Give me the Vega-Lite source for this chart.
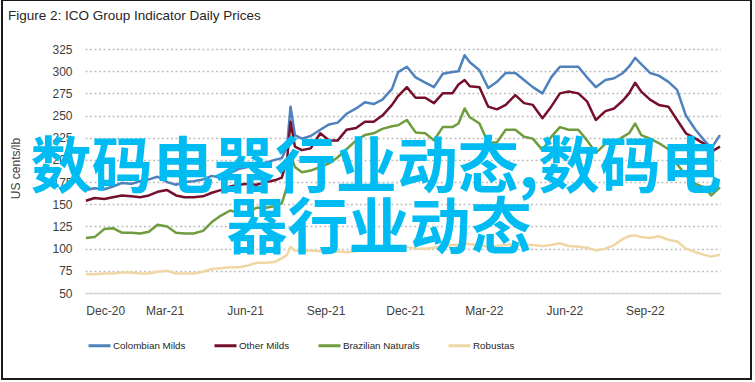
{
"$schema": "https://vega.github.io/schema/vega-lite/v6.json",
"width": 749, "height": 379,
"autosize": {"type": "none"},
"padding": {"left": 2, "top": 0, "right": 4, "bottom": 3},
"background": "white",
"config": {"font": "Liberation Sans", "view": {"stroke": "#1a1a1a", "strokeWidth": 2}, "axis": {"labelOverlap": false}, "axisY": {"labelOverlap": false}},
"title": {"text": "Figure 2: ICO Group Indicator Daily Prices", "anchor": "start", "frame": "group", "offset": -22, "dx": 6, "font": "Liberation Sans", "fontSize": 13.5, "fontWeight": "normal", "color": "#262626"},
"layer": [
{
"data": {"values": [
{"d":"2020-12-01","s":"Colombian Milds","v":166},{"d":"2020-12-11","s":"Colombian Milds","v":168},{"d":"2020-12-22","s":"Colombian Milds","v":167},{"d":"2021-01-01","s":"Colombian Milds","v":170},{"d":"2021-01-11","s":"Colombian Milds","v":174},{"d":"2021-01-22","s":"Colombian Milds","v":173},{"d":"2021-02-01","s":"Colombian Milds","v":176},{"d":"2021-02-11","s":"Colombian Milds","v":178},{"d":"2021-02-21","s":"Colombian Milds","v":181},{"d":"2021-03-04","s":"Colombian Milds","v":175},{"d":"2021-03-14","s":"Colombian Milds","v":172},{"d":"2021-03-24","s":"Colombian Milds","v":175},{"d":"2021-04-03","s":"Colombian Milds","v":176},{"d":"2021-04-14","s":"Colombian Milds","v":178},{"d":"2021-04-24","s":"Colombian Milds","v":182},{"d":"2021-05-04","s":"Colombian Milds","v":180},{"d":"2021-05-15","s":"Colombian Milds","v":185},{"d":"2021-05-25","s":"Colombian Milds","v":190},{"d":"2021-06-04","s":"Colombian Milds","v":192},{"d":"2021-06-14","s":"Colombian Milds","v":194},{"d":"2021-06-25","s":"Colombian Milds","v":197},{"d":"2021-07-05","s":"Colombian Milds","v":200},{"d":"2021-07-13","s":"Colombian Milds","v":202},{"d":"2021-07-19","s":"Colombian Milds","v":215},{"d":"2021-07-23","s":"Colombian Milds","v":260},{"d":"2021-07-28","s":"Colombian Milds","v":228},{"d":"2021-08-05","s":"Colombian Milds","v":224},{"d":"2021-08-15","s":"Colombian Milds","v":227},{"d":"2021-08-26","s":"Colombian Milds","v":234},{"d":"2021-09-05","s":"Colombian Milds","v":240},{"d":"2021-09-15","s":"Colombian Milds","v":242},{"d":"2021-09-25","s":"Colombian Milds","v":252},{"d":"2021-10-06","s":"Colombian Milds","v":258},{"d":"2021-10-16","s":"Colombian Milds","v":265},{"d":"2021-10-26","s":"Colombian Milds","v":263},{"d":"2021-11-05","s":"Colombian Milds","v":268},{"d":"2021-11-16","s":"Colombian Milds","v":280},{"d":"2021-11-23","s":"Colombian Milds","v":299},{"d":"2021-12-03","s":"Colombian Milds","v":305},{"d":"2021-12-13","s":"Colombian Milds","v":293},{"d":"2021-12-24","s":"Colombian Milds","v":287},{"d":"2022-01-03","s":"Colombian Milds","v":282},{"d":"2022-01-13","s":"Colombian Milds","v":297},{"d":"2022-01-24","s":"Colombian Milds","v":299},{"d":"2022-01-31","s":"Colombian Milds","v":300},{"d":"2022-02-07","s":"Colombian Milds","v":318},{"d":"2022-02-13","s":"Colombian Milds","v":310},{"d":"2022-02-24","s":"Colombian Milds","v":301},{"d":"2022-03-06","s":"Colombian Milds","v":281},{"d":"2022-03-16","s":"Colombian Milds","v":288},{"d":"2022-03-26","s":"Colombian Milds","v":298},{"d":"2022-04-06","s":"Colombian Milds","v":298},{"d":"2022-04-16","s":"Colombian Milds","v":290},{"d":"2022-04-26","s":"Colombian Milds","v":282},{"d":"2022-05-07","s":"Colombian Milds","v":275},{"d":"2022-05-17","s":"Colombian Milds","v":293},{"d":"2022-05-27","s":"Colombian Milds","v":305},{"d":"2022-06-06","s":"Colombian Milds","v":305},{"d":"2022-06-17","s":"Colombian Milds","v":305},{"d":"2022-06-27","s":"Colombian Milds","v":293},{"d":"2022-07-07","s":"Colombian Milds","v":282},{"d":"2022-07-18","s":"Colombian Milds","v":290},{"d":"2022-07-28","s":"Colombian Milds","v":292},{"d":"2022-08-07","s":"Colombian Milds","v":298},{"d":"2022-08-14","s":"Colombian Milds","v":305},{"d":"2022-08-21","s":"Colombian Milds","v":315},{"d":"2022-08-28","s":"Colombian Milds","v":308},{"d":"2022-09-07","s":"Colombian Milds","v":298},{"d":"2022-09-17","s":"Colombian Milds","v":295},{"d":"2022-09-28","s":"Colombian Milds","v":288},{"d":"2022-10-08","s":"Colombian Milds","v":279},{"d":"2022-10-18","s":"Colombian Milds","v":250},{"d":"2022-10-29","s":"Colombian Milds","v":234},{"d":"2022-11-08","s":"Colombian Milds","v":222},{"d":"2022-11-16","s":"Colombian Milds","v":213},{"d":"2022-11-26","s":"Colombian Milds","v":228},
{"d":"2020-12-01","s":"Other Milds","v":154},{"d":"2020-12-11","s":"Other Milds","v":157},{"d":"2020-12-22","s":"Other Milds","v":156},{"d":"2021-01-01","s":"Other Milds","v":158},{"d":"2021-01-11","s":"Other Milds","v":160},{"d":"2021-01-22","s":"Other Milds","v":159},{"d":"2021-02-01","s":"Other Milds","v":158},{"d":"2021-02-11","s":"Other Milds","v":160},{"d":"2021-02-21","s":"Other Milds","v":164},{"d":"2021-03-04","s":"Other Milds","v":166},{"d":"2021-03-14","s":"Other Milds","v":160},{"d":"2021-03-24","s":"Other Milds","v":158},{"d":"2021-04-03","s":"Other Milds","v":158},{"d":"2021-04-14","s":"Other Milds","v":159},{"d":"2021-04-24","s":"Other Milds","v":163},{"d":"2021-05-04","s":"Other Milds","v":166},{"d":"2021-05-15","s":"Other Milds","v":170},{"d":"2021-05-25","s":"Other Milds","v":172},{"d":"2021-06-04","s":"Other Milds","v":173},{"d":"2021-06-14","s":"Other Milds","v":172},{"d":"2021-06-25","s":"Other Milds","v":175},{"d":"2021-07-05","s":"Other Milds","v":177},{"d":"2021-07-13","s":"Other Milds","v":180},{"d":"2021-07-19","s":"Other Milds","v":200},{"d":"2021-07-23","s":"Other Milds","v":243},{"d":"2021-07-28","s":"Other Milds","v":215},{"d":"2021-08-05","s":"Other Milds","v":211},{"d":"2021-08-15","s":"Other Milds","v":213},{"d":"2021-08-26","s":"Other Milds","v":230},{"d":"2021-09-05","s":"Other Milds","v":222},{"d":"2021-09-15","s":"Other Milds","v":222},{"d":"2021-09-25","s":"Other Milds","v":234},{"d":"2021-10-06","s":"Other Milds","v":236},{"d":"2021-10-16","s":"Other Milds","v":243},{"d":"2021-10-26","s":"Other Milds","v":243},{"d":"2021-11-05","s":"Other Milds","v":250},{"d":"2021-11-16","s":"Other Milds","v":262},{"d":"2021-11-23","s":"Other Milds","v":272},{"d":"2021-12-03","s":"Other Milds","v":282},{"d":"2021-12-13","s":"Other Milds","v":270},{"d":"2021-12-24","s":"Other Milds","v":270},{"d":"2022-01-03","s":"Other Milds","v":264},{"d":"2022-01-13","s":"Other Milds","v":275},{"d":"2022-01-24","s":"Other Milds","v":275},{"d":"2022-01-31","s":"Other Milds","v":285},{"d":"2022-02-07","s":"Other Milds","v":290},{"d":"2022-02-13","s":"Other Milds","v":283},{"d":"2022-02-24","s":"Other Milds","v":282},{"d":"2022-03-06","s":"Other Milds","v":260},{"d":"2022-03-16","s":"Other Milds","v":257},{"d":"2022-03-26","s":"Other Milds","v":262},{"d":"2022-04-06","s":"Other Milds","v":273},{"d":"2022-04-16","s":"Other Milds","v":264},{"d":"2022-04-26","s":"Other Milds","v":262},{"d":"2022-05-07","s":"Other Milds","v":247},{"d":"2022-05-17","s":"Other Milds","v":260},{"d":"2022-05-27","s":"Other Milds","v":275},{"d":"2022-06-06","s":"Other Milds","v":277},{"d":"2022-06-17","s":"Other Milds","v":275},{"d":"2022-06-27","s":"Other Milds","v":266},{"d":"2022-07-07","s":"Other Milds","v":245},{"d":"2022-07-18","s":"Other Milds","v":255},{"d":"2022-07-28","s":"Other Milds","v":258},{"d":"2022-08-07","s":"Other Milds","v":267},{"d":"2022-08-14","s":"Other Milds","v":275},{"d":"2022-08-21","s":"Other Milds","v":287},{"d":"2022-08-28","s":"Other Milds","v":277},{"d":"2022-09-07","s":"Other Milds","v":268},{"d":"2022-09-17","s":"Other Milds","v":262},{"d":"2022-09-28","s":"Other Milds","v":260},{"d":"2022-10-08","s":"Other Milds","v":245},{"d":"2022-10-18","s":"Other Milds","v":230},{"d":"2022-10-29","s":"Other Milds","v":224},{"d":"2022-11-08","s":"Other Milds","v":218},{"d":"2022-11-16","s":"Other Milds","v":209},{"d":"2022-11-26","s":"Other Milds","v":215},
{"d":"2020-12-01","s":"Brazilian Naturals","v":112},{"d":"2020-12-11","s":"Brazilian Naturals","v":113},{"d":"2020-12-22","s":"Brazilian Naturals","v":122},{"d":"2021-01-01","s":"Brazilian Naturals","v":123},{"d":"2021-01-11","s":"Brazilian Naturals","v":118},{"d":"2021-01-22","s":"Brazilian Naturals","v":118},{"d":"2021-02-01","s":"Brazilian Naturals","v":117},{"d":"2021-02-11","s":"Brazilian Naturals","v":119},{"d":"2021-02-21","s":"Brazilian Naturals","v":127},{"d":"2021-03-04","s":"Brazilian Naturals","v":125},{"d":"2021-03-14","s":"Brazilian Naturals","v":118},{"d":"2021-03-24","s":"Brazilian Naturals","v":117},{"d":"2021-04-03","s":"Brazilian Naturals","v":117},{"d":"2021-04-14","s":"Brazilian Naturals","v":120},{"d":"2021-04-24","s":"Brazilian Naturals","v":130},{"d":"2021-05-04","s":"Brazilian Naturals","v":137},{"d":"2021-05-15","s":"Brazilian Naturals","v":143},{"d":"2021-05-25","s":"Brazilian Naturals","v":140},{"d":"2021-06-04","s":"Brazilian Naturals","v":141},{"d":"2021-06-14","s":"Brazilian Naturals","v":146},{"d":"2021-06-25","s":"Brazilian Naturals","v":146},{"d":"2021-07-05","s":"Brazilian Naturals","v":148},{"d":"2021-07-13","s":"Brazilian Naturals","v":151},{"d":"2021-07-19","s":"Brazilian Naturals","v":170},{"d":"2021-07-23","s":"Brazilian Naturals","v":205},{"d":"2021-07-28","s":"Brazilian Naturals","v":192},{"d":"2021-08-05","s":"Brazilian Naturals","v":186},{"d":"2021-08-15","s":"Brazilian Naturals","v":188},{"d":"2021-08-26","s":"Brazilian Naturals","v":192},{"d":"2021-09-05","s":"Brazilian Naturals","v":196},{"d":"2021-09-15","s":"Brazilian Naturals","v":203},{"d":"2021-09-25","s":"Brazilian Naturals","v":212},{"d":"2021-10-06","s":"Brazilian Naturals","v":222},{"d":"2021-10-16","s":"Brazilian Naturals","v":228},{"d":"2021-10-26","s":"Brazilian Naturals","v":230},{"d":"2021-11-05","s":"Brazilian Naturals","v":235},{"d":"2021-11-16","s":"Brazilian Naturals","v":238},{"d":"2021-11-23","s":"Brazilian Naturals","v":239},{"d":"2021-12-03","s":"Brazilian Naturals","v":245},{"d":"2021-12-13","s":"Brazilian Naturals","v":231},{"d":"2021-12-24","s":"Brazilian Naturals","v":230},{"d":"2022-01-03","s":"Brazilian Naturals","v":222},{"d":"2022-01-13","s":"Brazilian Naturals","v":237},{"d":"2022-01-24","s":"Brazilian Naturals","v":237},{"d":"2022-01-31","s":"Brazilian Naturals","v":241},{"d":"2022-02-07","s":"Brazilian Naturals","v":258},{"d":"2022-02-13","s":"Brazilian Naturals","v":248},{"d":"2022-02-24","s":"Brazilian Naturals","v":241},{"d":"2022-03-06","s":"Brazilian Naturals","v":219},{"d":"2022-03-16","s":"Brazilian Naturals","v":220},{"d":"2022-03-26","s":"Brazilian Naturals","v":234},{"d":"2022-04-06","s":"Brazilian Naturals","v":234},{"d":"2022-04-16","s":"Brazilian Naturals","v":226},{"d":"2022-04-26","s":"Brazilian Naturals","v":224},{"d":"2022-05-07","s":"Brazilian Naturals","v":211},{"d":"2022-05-17","s":"Brazilian Naturals","v":226},{"d":"2022-05-27","s":"Brazilian Naturals","v":237},{"d":"2022-06-06","s":"Brazilian Naturals","v":234},{"d":"2022-06-17","s":"Brazilian Naturals","v":234},{"d":"2022-06-27","s":"Brazilian Naturals","v":222},{"d":"2022-07-07","s":"Brazilian Naturals","v":208},{"d":"2022-07-18","s":"Brazilian Naturals","v":218},{"d":"2022-07-28","s":"Brazilian Naturals","v":219},{"d":"2022-08-07","s":"Brazilian Naturals","v":226},{"d":"2022-08-14","s":"Brazilian Naturals","v":230},{"d":"2022-08-21","s":"Brazilian Naturals","v":241},{"d":"2022-08-28","s":"Brazilian Naturals","v":228},{"d":"2022-09-07","s":"Brazilian Naturals","v":224},{"d":"2022-09-17","s":"Brazilian Naturals","v":219},{"d":"2022-09-28","s":"Brazilian Naturals","v":212},{"d":"2022-10-08","s":"Brazilian Naturals","v":195},{"d":"2022-10-18","s":"Brazilian Naturals","v":183},{"d":"2022-10-29","s":"Brazilian Naturals","v":173},{"d":"2022-11-08","s":"Brazilian Naturals","v":169},{"d":"2022-11-16","s":"Brazilian Naturals","v":160},{"d":"2022-11-26","s":"Brazilian Naturals","v":169},
{"d":"2020-12-01","s":"Robustas","v":71},{"d":"2020-12-11","s":"Robustas","v":71},{"d":"2020-12-22","s":"Robustas","v":72},{"d":"2021-01-01","s":"Robustas","v":72},{"d":"2021-01-11","s":"Robustas","v":73},{"d":"2021-01-22","s":"Robustas","v":73},{"d":"2021-02-01","s":"Robustas","v":72},{"d":"2021-02-11","s":"Robustas","v":72},{"d":"2021-02-21","s":"Robustas","v":74},{"d":"2021-03-04","s":"Robustas","v":75},{"d":"2021-03-14","s":"Robustas","v":72},{"d":"2021-03-24","s":"Robustas","v":72},{"d":"2021-04-03","s":"Robustas","v":72},{"d":"2021-04-14","s":"Robustas","v":74},{"d":"2021-04-24","s":"Robustas","v":77},{"d":"2021-05-04","s":"Robustas","v":78},{"d":"2021-05-15","s":"Robustas","v":79},{"d":"2021-05-25","s":"Robustas","v":79},{"d":"2021-06-04","s":"Robustas","v":81},{"d":"2021-06-14","s":"Robustas","v":84},{"d":"2021-06-25","s":"Robustas","v":84},{"d":"2021-07-05","s":"Robustas","v":85},{"d":"2021-07-13","s":"Robustas","v":89},{"d":"2021-07-19","s":"Robustas","v":93},{"d":"2021-07-23","s":"Robustas","v":102},{"d":"2021-07-28","s":"Robustas","v":98},{"d":"2021-08-05","s":"Robustas","v":97},{"d":"2021-08-15","s":"Robustas","v":98},{"d":"2021-08-26","s":"Robustas","v":97},{"d":"2021-09-05","s":"Robustas","v":96},{"d":"2021-09-15","s":"Robustas","v":97},{"d":"2021-09-25","s":"Robustas","v":96},{"d":"2021-10-06","s":"Robustas","v":97},{"d":"2021-10-16","s":"Robustas","v":99},{"d":"2021-10-26","s":"Robustas","v":100},{"d":"2021-11-05","s":"Robustas","v":99},{"d":"2021-11-16","s":"Robustas","v":100},{"d":"2021-11-23","s":"Robustas","v":101},{"d":"2021-12-03","s":"Robustas","v":102},{"d":"2021-12-13","s":"Robustas","v":100},{"d":"2021-12-24","s":"Robustas","v":100},{"d":"2022-01-03","s":"Robustas","v":101},{"d":"2022-01-13","s":"Robustas","v":103},{"d":"2022-01-24","s":"Robustas","v":104},{"d":"2022-01-31","s":"Robustas","v":104},{"d":"2022-02-07","s":"Robustas","v":106},{"d":"2022-02-13","s":"Robustas","v":105},{"d":"2022-02-24","s":"Robustas","v":104},{"d":"2022-03-06","s":"Robustas","v":102},{"d":"2022-03-16","s":"Robustas","v":103},{"d":"2022-03-26","s":"Robustas","v":104},{"d":"2022-04-06","s":"Robustas","v":105},{"d":"2022-04-16","s":"Robustas","v":104},{"d":"2022-04-26","s":"Robustas","v":104},{"d":"2022-05-07","s":"Robustas","v":103},{"d":"2022-05-17","s":"Robustas","v":104},{"d":"2022-05-27","s":"Robustas","v":106},{"d":"2022-06-06","s":"Robustas","v":103},{"d":"2022-06-17","s":"Robustas","v":102},{"d":"2022-06-27","s":"Robustas","v":101},{"d":"2022-07-07","s":"Robustas","v":98},{"d":"2022-07-18","s":"Robustas","v":100},{"d":"2022-07-28","s":"Robustas","v":104},{"d":"2022-08-07","s":"Robustas","v":111},{"d":"2022-08-14","s":"Robustas","v":114},{"d":"2022-08-21","s":"Robustas","v":115},{"d":"2022-08-28","s":"Robustas","v":113},{"d":"2022-09-07","s":"Robustas","v":112},{"d":"2022-09-17","s":"Robustas","v":114},{"d":"2022-09-28","s":"Robustas","v":110},{"d":"2022-10-08","s":"Robustas","v":108},{"d":"2022-10-18","s":"Robustas","v":100},{"d":"2022-10-29","s":"Robustas","v":96},{"d":"2022-11-08","s":"Robustas","v":93},{"d":"2022-11-16","s":"Robustas","v":91},{"d":"2022-11-26","s":"Robustas","v":93}
]},
"mark": {"type": "line", "strokeWidth": 2.5, "strokeJoin": "round"},
"encoding": {
"x": {"field": "d", "type": "temporal",
"scale": {"domain": ["2020-11-30", "2022-11-26"], "range": [83, 718]},
"axis": {"title": null, "orient": "bottom", "offset": -86, "grid": false, "ticks": false,
"values": [{"year":2020,"month":12,"date":1},{"year":2021,"month":3,"date":1},{"year":2021,"month":6,"date":1},{"year":2021,"month":9,"date":1},{"year":2021,"month":12,"date":1},{"year":2022,"month":3,"date":1},{"year":2022,"month":6,"date":1},{"year":2022,"month":9,"date":1}],
"format": "%b-%y", "labelFontSize": 12, "labelColor": "#404040", "labelPadding": 12, "labelOverlap": false,
"domainColor": "#d9d9d9", "domainWidth": 1.5, "labelFont": "Liberation Sans"}},
"y": {"field": "v", "type": "quantitative",
"scale": {"domain": [50, 325], "range": [293, 49], "nice": false, "zero": false},
"axis": {"title": "US cents/lb", "orient": "left", "offset": -83, "domain": false, "ticks": false,
"values": [50,75,100,125,150,175,200,225,250,275,300,325], "labelOverlap": false, "tickCount": 12,
"labelFontSize": 12, "labelColor": "#404040", "labelPadding": 13, "labelFont": "Liberation Sans",
"grid": true, "gridColor": "#bfbfbf", "gridDash": [2, 2.5], "gridWidth": 1.3,
"titleFont": "Liberation Sans", "titleFontSize": 12, "titleFontWeight": "normal", "titleColor": "#404040",
"titleX": -70, "titleY": 168, "titleAngle": 270, "titleAlign": "center", "titleBaseline": "middle"}},
"color": {"field": "s", "type": "nominal",
"scale": {"domain": ["Colombian Milds", "Other Milds", "Brazilian Naturals", "Robustas"], "range": ["#4f81bd", "#750f2b", "#6f9c3d", "#eed7a4"]},
"legend": {"title": null, "orient": "none", "legendX": 85, "legendY": 333, "direction": "horizontal",
"symbolType": "stroke", "symbolSize": 484, "symbolStrokeWidth": 3, "labelOffset": 1, "columnPadding": 22,
"labelFont": "Liberation Sans", "labelFontSize": 9.8, "labelColor": "#262626"}}
}
},
{
"data": {"values": [
{"d": "2021-10-29", "v": 189, "t": "数码电器行业动态,数码电"},
{"d": "2021-11-01", "v": 120, "t": "器行业动态"}
]},
"mark": {"type": "text", "font": "Noto Sans CJK SC", "fontSize": 61, "fontWeight": "bold", "color": "#00bcf2", "align": "center", "baseline": "middle"},
"encoding": {
"x": {"field": "d", "type": "temporal"},
"y": {"field": "v", "type": "quantitative"},
"text": {"field": "t"}
}
}
]
}
